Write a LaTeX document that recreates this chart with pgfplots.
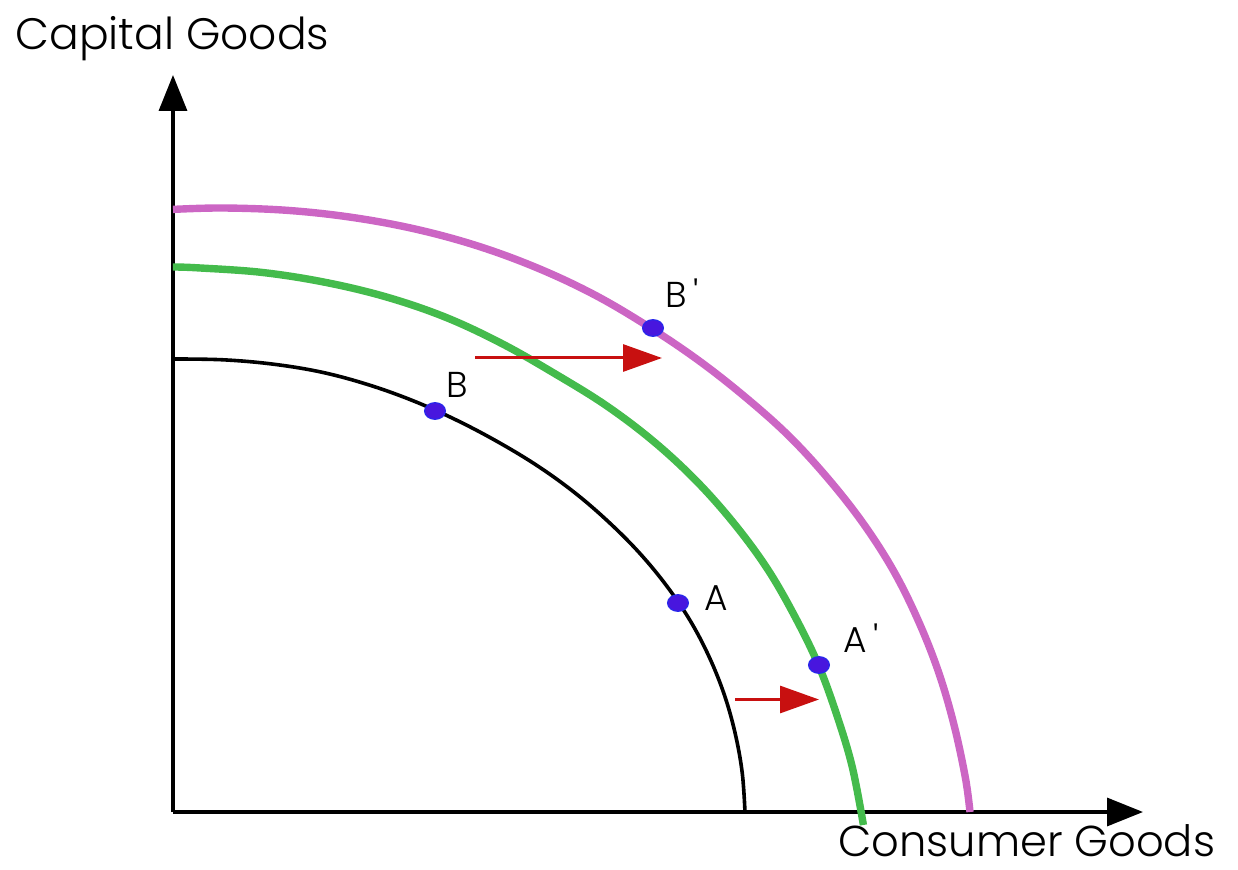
\documentclass[border=0pt]{standalone}
\usepackage{pgfplots}
\pgfplotsset{compat=1.18}
\usepackage{fontspec}
\setmainfont{Poppins Light}
\usetikzlibrary{arrows.meta}
\definecolor{ppfpink}{RGB}{204,102,196}
\definecolor{ppfgreen}{RGB}{68,187,76}
\definecolor{arrred}{RGB}{200,16,16}
\definecolor{dotblue}{RGB}{72,22,222}
\definecolor{dotedge}{RGB}{40,40,235}
\begin{document}
\begin{tikzpicture}
\begin{axis}[
  x=0.5pt, y=0.5pt,
  xmin=0, xmax=970, ymin=0, ymax=737,
  enlargelimits=false,
  axis lines=left,
  axis line style={line width=1.7pt, -{Triangle[length=18pt,width=14pt]}},
  ticks=none,
  clip=false,
]
\path (axis cs:-173,-57) rectangle (axis cs:1065,812);
% black PPF
\addplot[black, line width=1.8pt, smooth, tension=0.6] coordinates {
 (0,453) (50.0,452.2) (99.7,447.9) (148.8,439.8) (196.2,427.0) (241.7,410.6)
 (285.1,391.1) (326.5,369.2) (365.8,345.3) (402.5,318.7) (436.0,289.7)
 (466.7,258.8) (493.9,225.8) (517.4,191.0) (536.4,154.6) (551.4,117.0)
 (562.2,78.5) (569.2,39.4) (572,0)};
% green PPF
\addplot[ppfgreen, line width=3.7pt, smooth, tension=0.6] coordinates {
 (0,545) (23.9,544.2) (87.9,539.7) (151.1,529.9) (213.1,515.1) (272.7,494.7)
 (328.9,468.4) (381.9,438.3) (433.3,406.4) (480.6,370.6) (523.4,331.0)
 (561.3,288.2) (594.5,243.0) (622.0,195.3) (645.7,146.4) (664.1,96.0)
 (679.3,44.9) (690.4,-13.0)};
% pink PPF
\addplot[ppfpink, line width=3.7pt, smooth, tension=0.6] coordinates {
 (0,602.6) (50,604) (115.1,601.6) (179.8,594.5) (243.4,582.7) (305.4,565.8)
 (364.9,543.8) (421.5,517.2) (474.4,486.1) (524.6,452.3) (571.6,415.5)
 (615.6,376.3) (654.9,333.6) (690.2,288.6) (720.6,241.1) (745.3,191.3)
 (765.5,140.1) (780.9,87.6) (792.4,34.2) (797,0)};
% red arrows
\addplot[arrred, line width=1.5pt, -{Triangle[length=19.5pt,width=13.5pt]}] coordinates {(302,454) (489,454)};
\addplot[arrred, line width=1.5pt, -{Triangle[length=19.5pt,width=13.5pt]}] coordinates {(562,112.5) (646,112.5)};
% points
\addplot[only marks, mark=*, mark size=5.2pt, mark options={fill=dotblue, draw=dotedge, line width=0.6pt, yscale=0.8}] coordinates {
 (262,401) (505,209) (480,484) (646,147)};
% point labels
\node[font=\fontsize{18}{18}\selectfont] at (axis cs:284,427) {B};
\node[font=\fontsize{18}{18}\selectfont] at (axis cs:509,519) {B\,\textquotesingle};
\node[font=\fontsize{18}{18}\selectfont] at (axis cs:543,214) {A};
\node[font=\fontsize{18}{18}\selectfont] at (axis cs:688,174) {A\,\textquotesingle};
% axis titles
\node[anchor=base west, inner sep=0pt, font=\fontsize{22}{22}\selectfont] at (axis cs:-158,762) {Capital Goods};
\node[anchor=base west, inner sep=0pt, font=\fontsize{21.6}{22}\selectfont] at (axis cs:665,-44) {Consumer Goods};
\end{axis}
\end{tikzpicture}
\end{document}
